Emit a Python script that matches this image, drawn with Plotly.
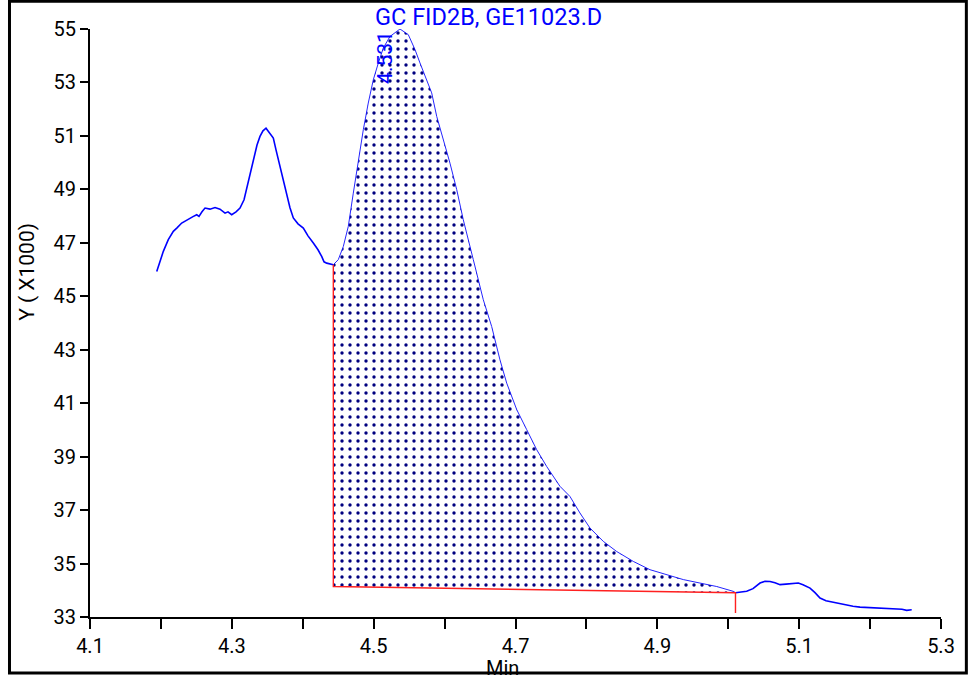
import plotly.graph_objects as go

# ---- data (minutes, signal x1000) ----
left_x = [4.1941, 4.2034, 4.2104, 4.2175, 4.2227, 4.2293, 4.2354, 4.2410, 4.2452, 4.2505,
          4.2537, 4.2579, 4.2622, 4.2692, 4.2763, 4.2833, 4.2904, 4.2946, 4.2998, 4.3059,
          4.3115, 4.3172, 4.3210, 4.3256, 4.3303, 4.3355, 4.3397, 4.3439, 4.3482, 4.3524,
          4.3585, 4.3623, 4.3679, 4.3721, 4.3774, 4.3820, 4.3867, 4.3933, 4.4008, 4.4074,
          4.4149, 4.4215, 4.4267, 4.4300, 4.4338, 4.4384, 4.4431]
left_y = [45.93, 46.68, 47.12, 47.43, 47.56, 47.74, 47.83, 47.93, 47.98, 48.05,
          47.99, 48.16, 48.30, 48.26, 48.32, 48.26, 48.11, 48.16, 48.05, 48.16,
          48.30, 48.61, 49.05, 49.54, 50.10, 50.66, 50.98, 51.19, 51.29, 51.15,
          50.92, 50.48, 49.86, 49.29, 48.73, 48.31, 47.93, 47.71, 47.55, 47.26,
          46.99, 46.74, 46.49, 46.29, 46.24, 46.22, 46.18]

peak_x = [4.4431, 4.4501, 4.4572, 4.4642, 4.4713, 4.4783, 4.4854, 4.4924, 4.4995, 4.5066,
          4.5136, 4.5230, 4.5325, 4.5371, 4.5488, 4.5583, 4.5653, 4.5748, 4.5818, 4.5889,
          4.5982, 4.6076, 4.6171, 4.6264, 4.6405, 4.6546, 4.6664, 4.6781, 4.6876, 4.7017,
          4.7158, 4.7299, 4.7440, 4.7627, 4.7768, 4.7909, 4.8050, 4.8238, 4.8427, 4.8661,
          4.8896, 4.9131, 4.9366, 4.9601, 4.9837, 5.0071, 5.0102]
peak_y = [46.18, 46.37, 46.86, 47.61, 48.86, 50.11, 51.23, 52.23, 53.10, 53.73,
          54.29, 54.72, 54.91, 55.00, 54.79, 54.23, 53.73, 53.11, 52.61, 51.73,
          50.86, 49.98, 48.99, 47.86, 46.37, 44.87, 43.87, 42.62, 41.75, 40.76,
          40.01, 39.26, 38.63, 37.89, 37.51, 36.89, 36.33, 35.83, 35.45, 35.08,
          34.77, 34.58, 34.40, 34.27, 34.14, 33.96, 33.91]

right_x = [5.0102, 5.0260, 5.0349, 5.0448, 5.0518, 5.0589, 5.0659, 5.0730, 5.0814, 5.0899,
           5.0988, 5.1054, 5.1153, 5.1223, 5.1294, 5.1378, 5.1481, 5.1576, 5.1670, 5.1759,
           5.1858, 5.1999, 5.2140, 5.2253, 5.2375, 5.2450, 5.2516, 5.2587]
right_y = [33.91, 33.96, 34.06, 34.27, 34.34, 34.33, 34.28, 34.21, 34.23, 34.25,
           34.27, 34.21, 34.08, 33.91, 33.71, 33.61, 33.55, 33.50, 33.46, 33.40,
           33.37, 33.35, 33.31, 33.30, 33.30, 33.29, 33.25, 33.27]

# integration baseline (red): peak start drop, baseline, end drop
base_x = [4.4431, 4.4431, 5.0102, 5.0102]
base_y = [46.18, 34.14, 33.91, 33.15]

x_ticks = [4.1, 4.2, 4.3, 4.4, 4.5, 4.6, 4.7, 4.8, 4.9, 5.0, 5.1, 5.2, 5.3]
x_ticktext = ["4.1", "", "4.3", "", "4.5", "", "4.7", "", "4.9", "", "5.1", "", "5.3"]
y_ticks = [33, 35, 37, 39, 41, 43, 45, 47, 49, 51, 53, 55]

title_text = "GC FID2B, GE11023.D"
peak_label = "4.531"
peak_label_x = 4.516
peak_label_y = 53.92

FONT = "Roboto, 'Noto Sans', Arial, sans-serif"
BLUE = "#0000FF"

fig = go.Figure()

# shaded integrated area
fig.add_trace(go.Scatter(
    x=peak_x + [base_x[2], base_x[1]],
    y=peak_y + [base_y[2], base_y[1]],
    mode="lines", fill="toself", line=dict(width=0),
    fillcolor="rgba(0,0,0,0)",
    fillpattern=dict(shape=".", fgcolor="#00007F", fgopacity=1,
                     bgcolor="rgba(255,255,255,0)",
                     size=8, solidity=0.14, fillmode="overlay"),
    hoverinfo="skip", showlegend=False))

fig.add_trace(go.Scatter(x=left_x, y=left_y, mode="lines",
                         line=dict(color=BLUE, width=1.6), showlegend=False))
fig.add_trace(go.Scatter(x=peak_x, y=peak_y, mode="lines",
                         line=dict(color=BLUE, width=1), opacity=0.85, showlegend=False))
fig.add_trace(go.Scatter(x=right_x, y=right_y, mode="lines",
                         line=dict(color=BLUE, width=1.6), showlegend=False))
fig.add_trace(go.Scatter(x=base_x, y=base_y, mode="lines",
                         line=dict(color="#FF2020", width=1.4), showlegend=False))

axis_common = dict(showline=True, linewidth=2, linecolor="black", showgrid=False,
                   zeroline=False, ticks="outside", tickwidth=2, tickcolor="black",
                   tickfont=dict(family=FONT, size=20, color="black"))

fig.update_layout(
    width=971, height=675,
    margin=dict(l=90, r=30, t=29, b=58),
    paper_bgcolor="white", plot_bgcolor="white",
    xaxis=dict(range=[4.1, 5.3], tickvals=x_ticks, ticktext=x_ticktext, ticklen=10,
               **axis_common),
    yaxis=dict(range=[33, 55], tickvals=y_ticks, ticklen=8, **axis_common),
    shapes=[dict(type="rect", xref="paper", yref="paper",
                 x0=-0.0946, x1=1.0298, y0=-0.0954, y1=1.0472,
                 line=dict(color="black", width=3), fillcolor="rgba(0,0,0,0)",
                 layer="above")],
    annotations=[
        dict(text=title_text, xref="paper", yref="paper", x=0.4677, y=1.0196,
             xanchor="center", yanchor="middle", showarrow=False,
             font=dict(family=FONT, size=23.5, color=BLUE)),
        dict(text=peak_label, xref="x", yref="y", x=peak_label_x, y=peak_label_y,
             textangle=-90, xanchor="center", yanchor="middle", showarrow=False,
             font=dict(family=FONT, size=21, color=BLUE)),
        dict(text="Y ( X1000)", xref="paper", yref="paper", x=-0.0740, y=0.587,
             textangle=-90, xanchor="center", yanchor="middle", showarrow=False,
             font=dict(family=FONT, size=21, color="black")),
        dict(text="Min", xref="paper", yref="paper", x=0.4853, y=-0.0862,
             xanchor="center", yanchor="middle", showarrow=False,
             font=dict(family=FONT, size=20, color="black")),
    ],
)

fig.write_html("out.html", config={"displayModeBar": False},
               post_script="document.body.style.margin='0';document.body.style.overflow='hidden';")
